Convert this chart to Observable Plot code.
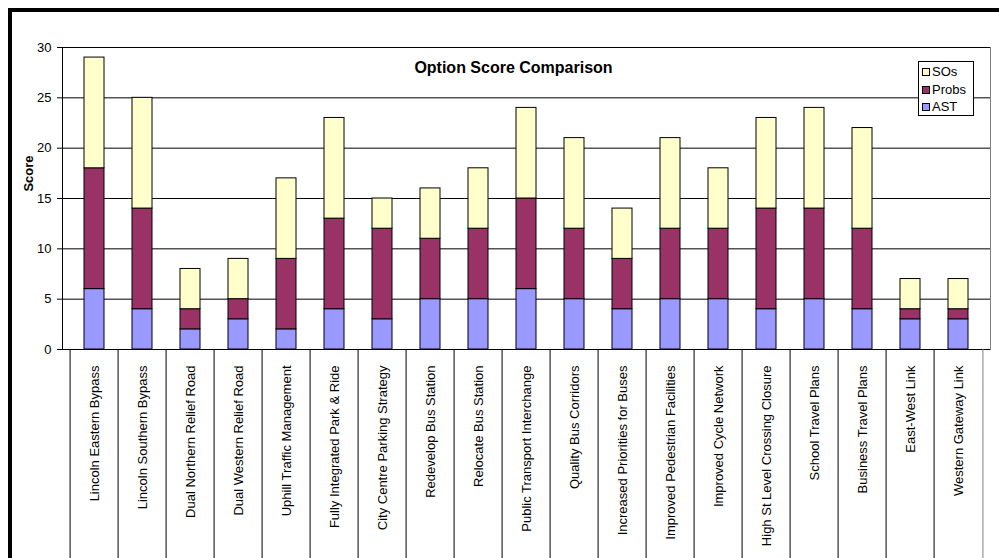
<!DOCTYPE html>
<html>
<head>
<meta charset="utf-8">
<script src="https://cdn.jsdelivr.net/npm/d3@7"></script>
<script src="https://cdn.jsdelivr.net/npm/@observablehq/plot@0.6"></script>
<style>
  html, body { margin: 0; padding: 0; background: #fff; overflow: hidden; }
  #wrap { position: relative; width: 999px; height: 558px; font-family: "Liberation Sans", Arial, sans-serif; }
  #border { position: absolute; left: 8px; top: 8px; width: 1000px; height: 600px; border: 4px solid #000; pointer-events: none; }
  #legend { position: absolute; left: 918px; top: 61px; width: 54px; height: 53px; border: 1px solid #000; background: #fff; font-size: 13px; color: #000; }
  #legend .row { position: absolute; left: 3px; height: 14px; line-height: 14px; white-space: nowrap; }
  #legend .sw { display: inline-block; box-sizing: border-box; width: 8px; height: 8px; border: 1px solid #000; margin-right: 2px; vertical-align: 0px; }
</style>
</head>
<body>
<div id="wrap">
  <div id="chart"></div>
  <div id="legend"></div>
  <div id="border"></div>
</div>
<script>
const categories = [
  "Lincoln Eastern Bypass", "Lincoln Southern Bypass", "Dual Northern Relief Road",
  "Dual Western Relief Road", "Uphill Traffic Management", "Fully Integrated Park & Ride",
  "City Centre Parking Strategy", "Redevelop Bus Station", "Relocate Bus Station",
  "Public Transport Interchange", "Quality Bus Corridors", "Increased Priorities for Buses",
  "Improved Pedestrian Facilities", "Improved Cycle Network", "High St Level Crossing Closure",
  "School Travel Plans", "Business Travel Plans", "East-West Link", "Western Gateway Link"
];
const AST   = [6, 4, 2, 3, 2, 4, 3, 5, 5, 6, 5, 4, 5, 5, 4, 5, 4, 3, 3];
const Probs = [12, 10, 2, 2, 7, 9, 9, 6, 7, 9, 7, 5, 7, 7, 10, 9, 8, 1, 1];
const SOs   = [11, 11, 4, 4, 8, 10, 3, 5, 6, 9, 9, 5, 9, 6, 9, 10, 10, 3, 3];
const seriesNames = ["AST", "Probs", "SOs"];
const legendOrder = ["SOs", "Probs", "AST"];
const colors = {SOs: "#FFFFCC", Probs: "#993366", AST: "#9999FF"};
const yTicks = [0, 5, 10, 15, 20, 25, 30];
const title = "Option Score Comparison";
const yLabel = "Score";

const data = [];
categories.forEach((c, i) => {
  data.push({option: c, series: "AST", value: AST[i]});
  data.push({option: c, series: "Probs", value: Probs[i]});
  data.push({option: c, series: "SOs", value: SOs[i]});
});

const W = 999, H = 558;
const mL = 62, mR = 9, mT = 47, mB = 209;
const step = (W - mL - mR) / categories.length;

const chart = Plot.plot({
  width: W, height: H,
  marginLeft: mL, marginRight: mR, marginTop: mT, marginBottom: mB,
  style: {fontFamily: "Liberation Sans, Arial, sans-serif", fontSize: "13px", color: "#000", background: "#fff"},
  x: {type: "band", domain: categories, paddingInner: 0.59, paddingOuter: 0.295, axis: null},
  y: {domain: [0, 30], axis: null},
  color: {domain: legendOrder, range: legendOrder.map(k => colors[k])},
  marks: [
    Plot.frame({stroke: "#808080"}),
    Plot.gridY(yTicks, {stroke: "#000", strokeOpacity: 1}),
    Plot.barY(data, Plot.stackY({x: "option", y: "value", fill: "series", order: seriesNames, stroke: "#000", strokeWidth: 1})),
    Plot.ruleY([0], {stroke: "#000"}),
    Plot.frame({anchor: "left", stroke: "#000"}),
    Plot.axisY({ticks: yTicks, tickSize: 5, tickPadding: 6, fontSize: 13, label: null}),
    Plot.axisX({tickSize: mB, dx: -step / 2, fill: "none", label: null}),
    Plot.axisX({ticks: [categories[categories.length - 1]], tickSize: mB, dx: step / 2, fill: "none", label: null, stroke: "#808080"}),
    Plot.axisX({tickSize: 0, tickPadding: 16, tickRotate: -90, fontSize: 13, label: null}),
    Plot.text([title], {frameAnchor: "top", lineAnchor: "middle", dy: 20, dx: -13, fontWeight: "bold", fontSize: 16}),
    Plot.text([yLabel], {frameAnchor: "left", textAnchor: "middle", lineAnchor: "middle", rotate: -90, dx: -34, dy: -25, fontWeight: "bold", fontSize: 13})
  ]
});
document.getElementById("chart").appendChild(chart);

const legend = document.getElementById("legend");
legendOrder.forEach((k, i) => {
  const row = document.createElement("div");
  row.className = "row";
  row.style.top = (3 + i * 17.5) + "px";
  const sw = document.createElement("span");
  sw.className = "sw";
  sw.style.background = colors[k];
  row.appendChild(sw);
  row.appendChild(document.createTextNode(k));
  legend.appendChild(row);
});
</script>
</body>
</html>
